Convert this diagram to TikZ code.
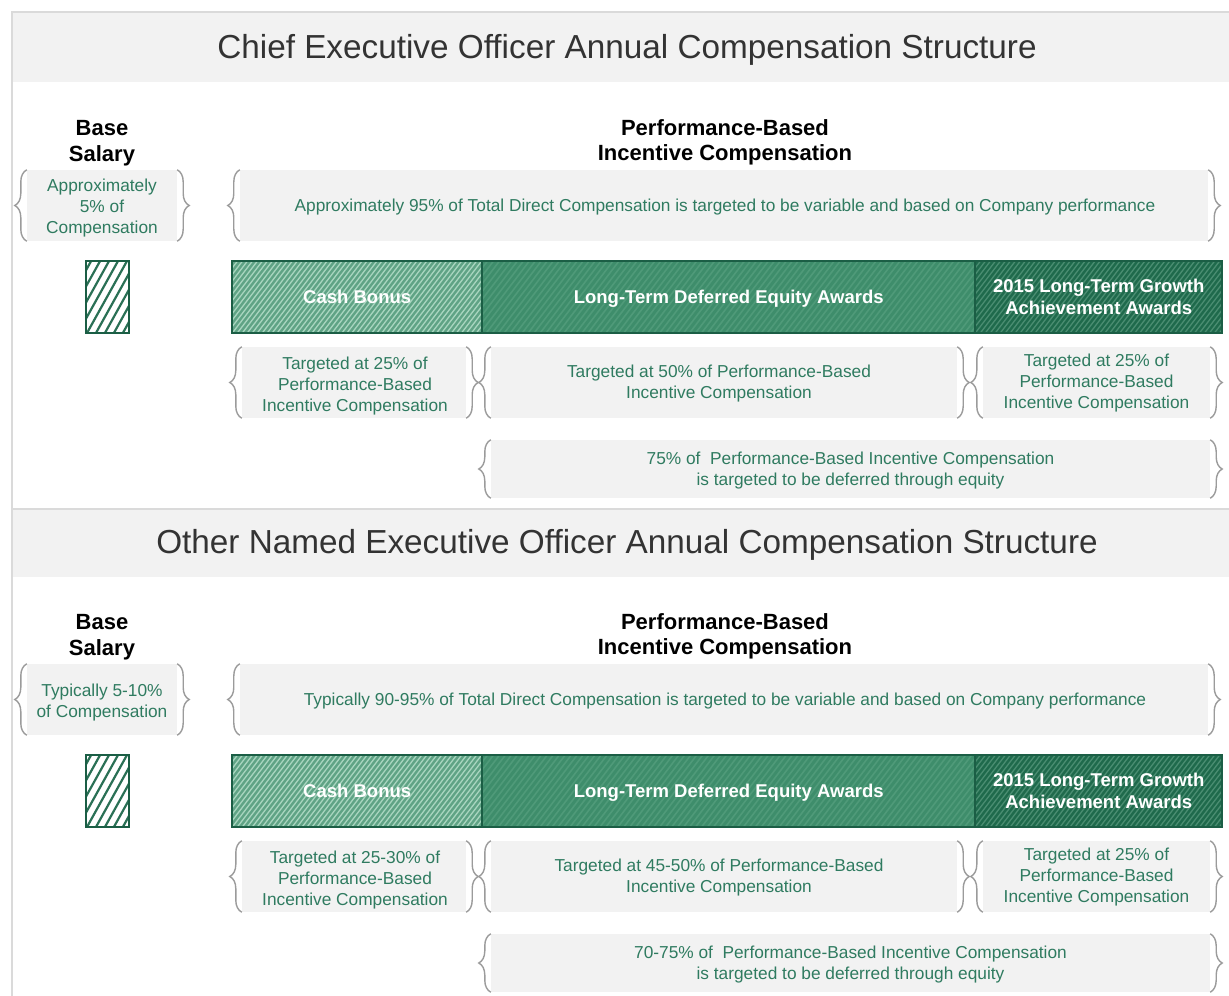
\documentclass[tikz,border=0pt]{standalone}
\usepackage{fontspec}
\setmainfont{Liberation Sans}
\usetikzlibrary{decorations.pathreplacing}
\definecolor{bandgray}{HTML}{F2F2F2}
\definecolor{boxgray}{HTML}{F2F2F2}
\definecolor{framegray}{HTML}{DADADA}
\definecolor{bracegray}{HTML}{9B9B9B}
\definecolor{txtgreen}{HTML}{2F7B60}
\definecolor{titlegray}{HTML}{333333}
\definecolor{barborder}{HTML}{1B5E45}
\definecolor{cashfill}{HTML}{5FA385}
\definecolor{cashstripe}{HTML}{A8D5BF}
\definecolor{ltfill}{HTML}{3E8D6B}
\definecolor{ltstripe}{HTML}{4F9A79}
\definecolor{lgfill}{HTML}{1F6A4C}
\definecolor{lgstripe}{HTML}{4A8D71}
\definecolor{smallstripe}{HTML}{2A7055}
\tikzset{
  band/.style={fill=bandgray, draw=none, inner sep=0pt},
  titletext/.style={font=\fontsize{33.3bp}{38bp}\selectfont, text=titlegray},
  hdr/.style={font=\bfseries\fontsize{22bp}{25.5bp}\selectfont, align=center, text=black},
  bbox/.style={fill=boxgray, draw=none, inner sep=0pt},
  btxt/.style={align=center, text=txtgreen, font=\fontsize{17.3bp}{21bp}\selectfont, inner sep=0pt},
  br/.style={draw=bracegray, line width=1.4bp, decorate, decoration={brace, amplitude=12bp}},
  seg/.style={draw=none, text=white, font=\bfseries\fontsize{18.5bp}{22bp}\selectfont,
    align=center, inner sep=0pt, minimum height=72bp, anchor=north west},
  oneline/.style={text height=16bp, text depth=3bp},
  hatch/.style n args={4}{path picture={%
    \foreach \i in {0,...,120}{%
      \draw[draw=#2, line width=#3]
        ([xshift={\i*#1-80}]path picture bounding box.south west) -- ++(#4bp,72bp);}}},
  divider/.style={draw=barborder, line width=2bp},
  frame/.style={draw=framegray, line width=2bp},
}
\newcommand{\bracepair}[1]{%
  \draw[br] (#1.south west) -- (#1.north west);
  \draw[br] (#1.north east) -- (#1.south east);}
\newcommand{\compsection}[8]{%
  \begin{scope}[shift={(0,#2)}]
    \node[hdr] (bshdr#1) at (102,143) {Base\\Salary};
    \node[hdr] (pbhdr#1) at (725,142.5) {Performance-Based\\Incentive Compensation};
    \node[bbox, minimum width=150bp, minimum height=71bp] (bsbox#1) at (102,205.5) {};
    \node[btxt] (bstxt#1) at ([yshift=-3bp]bsbox#1.center) {#3};
    \node[bbox, minimum width=968bp, minimum height=71bp] (pbbox#1) at (724,205.5) {};
    \node[btxt] (pbtxt#1) at ([xshift=1bp,yshift=-2bp]pbbox#1.center) {#4};
    \bracepair{bsbox#1}
    \bracepair{pbbox#1}
    % small hatched base salary block
    \node[draw=barborder, line width=2bp, fill=white, minimum width=43bp, minimum height=72bp,
      inner sep=0pt, hatch={9}{smallstripe}{2.2bp}{40}] (bsbar#1) at (107.5,297) {};
    % bar segments
    \node[seg, oneline, fill=cashfill, minimum width=250bp, hatch={5}{cashstripe}{1.3bp}{55}]
      (cash#1) at (232,261) {Cash Bonus};
    \node[seg, oneline, fill=ltfill, minimum width=493bp, hatch={6}{ltstripe}{1.6bp}{55}]
      (lt#1) at (482,261) {Long-Term Deferred Equity Awards};
    \node[seg, fill=lgfill, minimum width=247bp, hatch={5}{lgstripe}{1.3bp}{55}]
      (lg#1) at (975,261) {2015 Long-Term Growth\\Achievement Awards};
    \draw[divider] (cash#1.north west) rectangle (lg#1.south east);
    \draw[divider] (cash#1.north east) -- (cash#1.south east);
    \draw[divider] (lt#1.north east) -- (lt#1.south east);
    % lower boxes
    \node[bbox, minimum width=224bp, minimum height=71bp] (t1#1) at (354,382.5) {};
    \node[bbox, minimum width=466bp, minimum height=71bp] (t2#1) at (724,382.5) {};
    \node[bbox, minimum width=227bp, minimum height=71bp] (t3#1) at (1096.5,382.5) {};
    \node[bbox, minimum width=719bp, minimum height=58bp] (t4#1) at (850.5,469) {};
    \node[btxt] (t1txt#1) at ([xshift=1bp,yshift=-4bp]t1#1.center) {#5};
    \node[btxt] (t2txt#1) at ([xshift=-5bp,yshift=-1.5bp]t2#1.center) {#6};
    \node[btxt] (t3txt#1) at ([yshift=-1bp]t3#1.center) {#7};
    \node[btxt] (t4txt#1) at ([yshift=-2bp]t4#1.center) {#8};
    \bracepair{t1#1}
    \bracepair{t2#1}
    \bracepair{t3#1}
    \bracepair{t4#1}
  \end{scope}}
\begin{document}
\begin{tikzpicture}[x=1bp, y=-1bp]
  \useasboundingbox[fill=white] (0,0) rectangle (1229,996);
  % frame and title bands
  \node[band, minimum width=1216bp, minimum height=69bp, anchor=north west] (band1) at (13,13) {};
  \node[band, minimum width=1216bp, minimum height=68bp, anchor=north west] (band2) at (13,509) {};
  \draw[frame] (12,996) -- (12,12) -- (1229,12);
  \draw[frame, line width=1.5bp] (band2.north west) -- (band2.north east);
  \node[titletext] (title1) at (627,50) {Chief Executive Officer Annual Compensation Structure};
  \node[titletext] (title2) at (627,545) {Other Named Executive Officer Annual Compensation Structure};
  \compsection{a}{0}
    {Approximately\\5\% of\\Compensation}
    {Approximately 95\% of Total Direct Compensation is targeted to be variable and based on Company performance}
    {Targeted at 25\% of\\Performance-Based\\Incentive Compensation}
    {Targeted at 50\% of Performance-Based\\Incentive Compensation}
    {Targeted at 25\% of\\Performance-Based\\Incentive Compensation}
    {75\% of~ Performance-Based Incentive Compensation\\is targeted to be deferred through equity}
  \compsection{b}{494}
    {Typically 5-10\%\\of Compensation}
    {Typically 90-95\% of Total Direct Compensation is targeted to be variable and based on Company performance}
    {Targeted at 25-30\% of\\Performance-Based\\Incentive Compensation}
    {Targeted at 45-50\% of Performance-Based\\Incentive Compensation}
    {Targeted at 25\% of\\Performance-Based\\Incentive Compensation}
    {70-75\% of~ Performance-Based Incentive Compensation\\is targeted to be deferred through equity}
\end{tikzpicture}
\end{document}
